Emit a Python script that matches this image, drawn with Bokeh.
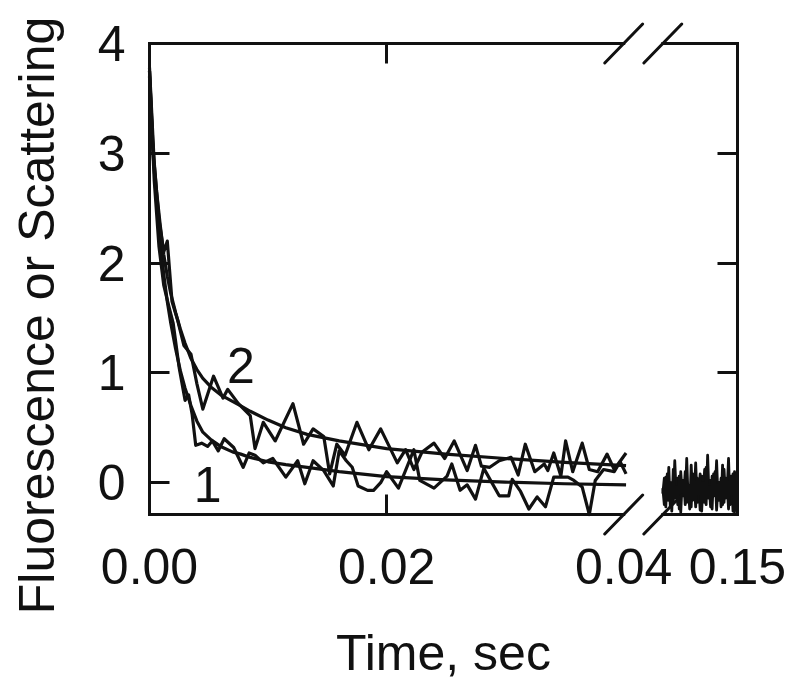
import numpy as np
from bokeh.plotting import figure
from bokeh.models import Range1d, FixedTicker, LinearAxis, ColumnDataSource, Label
from bokeh.core.properties import value
from bokeh.embed import file_html
from bokeh.resources import INLINE

FONT = "Liberation Sans"
INK = "#111111"

# ---------------- data ----------------
# fitted curves
fit_t = [0.0, 0.0003, 0.0006, 0.0009, 0.0012, 0.0015, 0.0018, 0.0022, 0.0026, 0.0030,
         0.0035, 0.0040, 0.0045, 0.0052, 0.0060, 0.0070, 0.0077, 0.0085, 0.0100, 0.0115,
         0.0133, 0.0160, 0.0200, 0.0250, 0.0300, 0.0350, 0.0402]
fit1_y = [3.75, 3.00, 2.55, 2.20, 1.90, 1.65, 1.45, 1.22, 1.02, 0.86,
          0.70, 0.56, 0.46, 0.39, 0.33, 0.28, 0.26, 0.23, 0.19, 0.165,
          0.14, 0.10, 0.055, 0.025, 0.005, -0.01, -0.02]
fit2_y = [3.75, 3.05, 2.65, 2.35, 2.08, 1.88, 1.72, 1.55, 1.40, 1.27,
          1.13, 1.03, 0.95, 0.87, 0.80, 0.74, 0.70, 0.65, 0.57, 0.50,
          0.44, 0.38, 0.31, 0.26, 0.22, 0.185, 0.155]

# trace 1 (raw)
tr1_t = [0.0000, 0.0004, 0.0008, 0.0012, 0.0016, 0.0020, 0.0025, 0.0030, 0.0033, 0.0036,
         0.0039, 0.0044, 0.0049, 0.0053, 0.0058, 0.0063, 0.0071, 0.0079, 0.0084, 0.0089,
         0.0096, 0.0104, 0.0115, 0.0125, 0.0131, 0.0138, 0.0147, 0.0155, 0.0160, 0.0166,
         0.0171, 0.0176, 0.0184, 0.0189, 0.0195, 0.0200, 0.0210, 0.0223, 0.0228, 0.0240,
         0.0251, 0.0255, 0.0262, 0.0268, 0.0275, 0.0282, 0.0295, 0.0303, 0.0306, 0.0313,
         0.0320, 0.0327, 0.0334, 0.0341, 0.0353, 0.0358, 0.0365, 0.0371, 0.0376, 0.0383,
         0.0392, 0.0397, 0.0402]
tr1_y = [3.70, 2.75, 2.15, 1.80, 1.62, 1.45, 1.05, 0.75, 0.80, 0.62,
         0.34, 0.36, 0.33, 0.38, 0.29, 0.40, 0.32, 0.14, 0.27, 0.25,
         0.18, 0.22, 0.05, 0.20, -0.01, 0.20, 0.11, -0.03, 0.29, 0.20,
         0.14, -0.03, -0.07, -0.07, 0.00, 0.10, -0.05, 0.30, 0.02, -0.05,
         0.06, 0.17, -0.07, -0.02, -0.15, 0.13, -0.12, -0.12, 0.03, -0.08,
         -0.24, -0.13, -0.22, 0.05, 0.05, 0.02, -0.04, -0.29, 0.02, 0.12,
         0.10, 0.19, 0.08]

# trace 2 (raw)
tr2_t = [0.0000, 0.0004, 0.0008, 0.0012, 0.0015, 0.0019, 0.0024, 0.0029, 0.0035, 0.0040,
         0.0045, 0.0054, 0.0062, 0.0066, 0.0075, 0.0085, 0.0089, 0.0096, 0.0106, 0.0121,
         0.0130, 0.0138, 0.0147, 0.0152, 0.0158, 0.0165, 0.0175, 0.0185, 0.0195, 0.0209,
         0.0216, 0.0223, 0.0230, 0.0240, 0.0249, 0.0257, 0.0268, 0.0275, 0.0280, 0.0287,
         0.0295, 0.0305, 0.0311, 0.0317, 0.0325, 0.0333, 0.0336, 0.0341, 0.0347, 0.0351,
         0.0357, 0.0365, 0.0371, 0.0378, 0.0386, 0.0392, 0.0402]
tr2_y = [3.78, 2.90, 2.40, 2.10, 2.20, 1.65, 1.47, 1.25, 1.17, 0.90,
         0.67, 0.97, 0.77, 0.85, 0.72, 0.61, 0.31, 0.55, 0.38, 0.72,
         0.35, 0.49, 0.42, 0.08, 0.35, 0.25, 0.55, 0.30, 0.49, 0.18,
         0.30, 0.12, 0.28, 0.36, 0.22, 0.38, 0.11, 0.34, 0.15, 0.14,
         0.20, 0.23, 0.07, 0.35, 0.10, 0.17, 0.11, 0.27, 0.06, 0.38,
         0.10, 0.36, 0.12, 0.10, 0.26, 0.12, 0.27]

# late segment (after the axis break), two raw traces
late_t = [round(0.100 + 0.001 * i, 3) for i in range(51)]
late1_y = [-0.05, -0.20, 0.05, -0.16, 0.14, -0.22, 0.00, -0.18, 0.20, -0.12,
           0.04, -0.24, 0.10, -0.10, 0.02, -0.20, 0.22, -0.16, -0.04, -0.22,
           0.08, -0.14, 0.18, -0.18, 0.00, -0.25, 0.06, -0.08, 0.12, -0.20,
           0.25, -0.14, 0.02, -0.24, 0.08, -0.12, 0.20, -0.16, 0.00, -0.22,
           0.16, -0.18, 0.04, -0.10, 0.22, -0.20, 0.06, -0.26, 0.10, -0.12, 0.12]
late2_y = [-0.10, 0.04, -0.22, 0.08, -0.16, 0.00, -0.26, 0.12, -0.14, -0.04,
           -0.20, 0.06, -0.27, 0.02, -0.12, 0.10, -0.18, -0.02, -0.24, 0.16,
           -0.16, 0.02, -0.22, 0.04, -0.10, 0.08, -0.26, 0.00, -0.18, 0.14,
           -0.14, -0.04, -0.22, 0.06, -0.12, 0.10, -0.25, -0.02, -0.16, 0.04,
           -0.20, 0.12, -0.14, 0.00, -0.24, 0.06, -0.10, 0.08, -0.27, 0.02, -0.08]

x_tick_values = [0.00, 0.02, 0.04, 0.15]
x_tick_labels = ["0.00", "0.02", "0.04", "0.15"]
y_tick_values = [0, 1, 2, 3, 4]
curve_labels = ["2", "1"]
curve_label_t = [0.0077, 0.0049]
curve_label_y = [1.07, -0.02]
y_title = "Fluorescence or Scattering"
x_title = "Time, sec"

# ---------------- broken x axis mapping ----------------
EARLY_END = 0.04          # display end of the first segment
BREAK_T = 0.07            # times above this belong to the late segment
LATE_START, LATE_END = 0.10, 0.15
DISP_LATE_START, DISP_END = 0.0433, 0.0496
Y_MIN, Y_MAX = -0.29, 4.0
SL_X, SL_Y = 0.0016, 0.177   # half extent of a break mark


def disp(t):
    t = np.asarray(t, dtype=float)
    late = DISP_LATE_START + (t - LATE_START) / (LATE_END - LATE_START) * (DISP_END - DISP_LATE_START)
    return np.round(np.where(t < BREAK_T, t, late), 6)


# ---------------- layout (pixels) ----------------
W, H = 796, 686
BOX_L, BOX_R, BOX_T, BOX_B = 149, 737, 43, 514      # the drawn box
PXX = (BOX_R - BOX_L) / DISP_END                     # px per x unit
PXY = (BOX_B - BOX_T) / (Y_MAX - Y_MIN)              # px per y unit


def xd(px):
    return (px - BOX_L) / PXX


def yd(py):
    return Y_MIN + (BOX_B - py) / PXY


# the plotting frame covers the whole canvas; axes are fixed onto the drawn box
p = figure(width=W, height=H, output_backend="svg", toolbar_location=None,
           x_range=Range1d(xd(0), xd(W)), y_range=Range1d(yd(H), yd(0)),
           min_border_left=0, min_border_right=0, min_border_top=0, min_border_bottom=0,
           x_axis_location=None, y_axis_location=None)
p.outline_line_color = None
p.grid.visible = False
p.background_fill_color = "white"
p.border_fill_color = "white"

# data lines
for tt, yy, w in [(fit_t, fit1_y, 3.2), (fit_t, fit2_y, 3.2), (tr1_t, tr1_y, 3.2), (tr2_t, tr2_y, 3.2),
                  (late_t, late1_y, 2.8), (late_t, late2_y, 2.8)]:
    p.line(disp(tt), yy, line_width=w, line_color=INK, line_join="round")

src_lab = ColumnDataSource(dict(x=list(disp(curve_label_t)), y=curve_label_y, text=curve_labels))
p.text(x="x", y="y", text="text", source=src_lab, text_font=value(FONT), text_font_size="50px",
       text_align="center", text_baseline="alphabetic", text_color=INK)

# box top / bottom (with the gap of the break) and the break marks
seg_x0, seg_x1, seg_y = [], [], []
for yv in (Y_MIN, Y_MAX):
    seg_x0 += [0.0, DISP_LATE_START]
    seg_x1 += [EARLY_END, DISP_END]
    seg_y += [yv, yv]
p.segment(x0=seg_x0, y0=seg_y, x1=seg_x1, y1=seg_y, line_width=3, line_color=INK, line_cap="square")
sx0, sy0, sx1, sy1 = [], [], [], []
for yv in (Y_MIN, Y_MAX):
    for xb in (EARLY_END, DISP_LATE_START):
        sx0.append(xb - SL_X); sy0.append(yv - SL_Y)
        sx1.append(xb + SL_X); sy1.append(yv + SL_Y)
p.segment(x0=sx0, y0=sy0, x1=sx1, y1=sy1, line_width=3, line_color=INK, line_cap="round")

# ----- axes -----
tick_disp = [float(v) for v in disp(x_tick_values)]
xa = LinearAxis(fixed_location=Y_MIN,
                ticker=FixedTicker(ticks=tick_disp, minor_ticks=[]),
                major_label_overrides={v: s for v, s in zip(tick_disp, x_tick_labels)},
                axis_line_color=None, major_tick_in=0, major_tick_out=0, minor_tick_line_color=None,
                major_label_standoff=34, major_label_text_font=FONT, major_label_text_font_size="50px",
                major_label_text_color=INK)
p.add_layout(xa, "below")

xt = LinearAxis(fixed_location=Y_MIN,
                ticker=FixedTicker(ticks=[0.02], minor_ticks=[]),
                axis_line_color=None,
                major_tick_in=20, major_tick_out=0, major_tick_line_width=3, major_tick_line_color=INK,
                minor_tick_line_color=None, major_label_text_font_size="1px",
                major_label_overrides={0.02: ""}, major_label_standoff=0)
p.add_layout(xt, "below")

ta = LinearAxis(fixed_location=Y_MAX,
                ticker=FixedTicker(ticks=[0.02], minor_ticks=[]),
                axis_line_color=None,
                major_tick_in=20, major_tick_out=0, major_tick_line_width=3, major_tick_line_color=INK,
                minor_tick_line_color=None, major_label_text_font_size="1px",
                major_label_overrides={0.02: ""}, major_label_standoff=0)
p.add_layout(ta, "above")

ya = LinearAxis(fixed_location=0.0, bounds=(Y_MIN, Y_MAX),
                ticker=FixedTicker(ticks=y_tick_values, minor_ticks=[]),
                axis_line_width=3, axis_line_color=INK,
                major_tick_in=20, major_tick_out=0, major_tick_line_width=3, major_tick_line_color=INK,
                minor_tick_line_color=None, major_label_standoff=24,
                major_label_text_font=FONT, major_label_text_font_size="50px", major_label_text_color=INK)
p.add_layout(ya, "left")

ra = LinearAxis(fixed_location=DISP_END, bounds=(Y_MIN, Y_MAX),
                ticker=FixedTicker(ticks=y_tick_values, minor_ticks=[]),
                axis_line_width=3, axis_line_color=INK,
                major_tick_in=20, major_tick_out=0, major_tick_line_width=3, major_tick_line_color=INK,
                minor_tick_line_color=None, major_label_text_font_size="1px",
                major_label_overrides={v: "" for v in y_tick_values}, major_label_standoff=0)
p.add_layout(ra, "right")

# axis titles
p.add_layout(Label(x=xd(443), y=yd(652), text=x_title, text_align="center",
                   text_baseline="alphabetic", text_font=FONT, text_font_size="50px",
                   text_color=INK))
p.add_layout(Label(x=xd(36), y=yd(315), text=y_title, angle=np.pi / 2, text_align="center",
                   text_baseline="alphabetic", text_font=FONT, text_font_size="50px",
                   text_color=INK))

open("out.html", "w").write(file_html(p, INLINE))
